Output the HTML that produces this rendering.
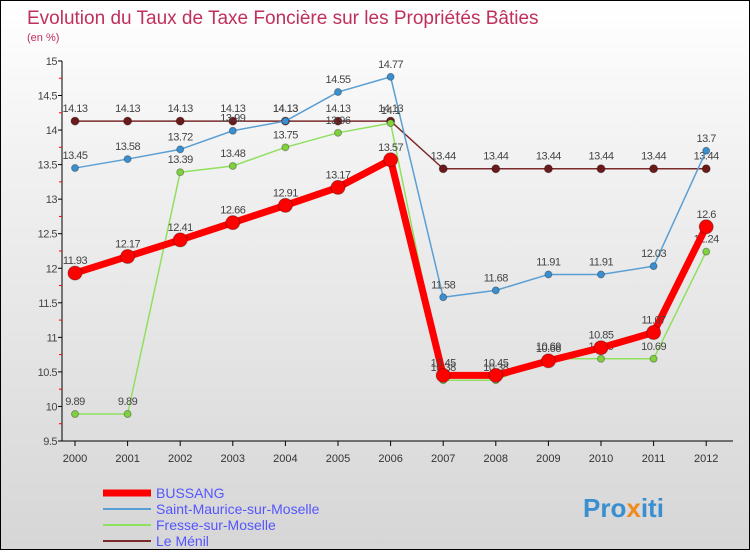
<!DOCTYPE html>
<html><head><meta charset="utf-8"><style>
body{margin:0;width:750px;height:550px;overflow:hidden;font-family:"Liberation Sans",sans-serif}
#wrap{position:relative;width:748px;height:548px;border:1px solid #000;background:linear-gradient(#fff 0%,#f1f1f1 30%,#d6d6d6 100%)}
</style></head><body>
<div id="wrap">
<svg id="svg" width="748" height="548" xmlns="http://www.w3.org/2000/svg">
<text x="26" y="23" font-size="19" fill="#c0305c">Evolution du Taux de Taxe Foncière sur les Propriétés Bâties</text>
<text x="26" y="40" font-size="11" fill="#c0305c">(en %)</text>
<g id="axes"></g><g id="series"></g>
<g>
<line x1="102" y1="492" x2="150" y2="492" stroke="#f00" stroke-width="7"/><text x="155" y="497" font-size="14" fill="#5555ff">BUSSANG</text>
<line x1="102" y1="508" x2="150" y2="508" stroke="#5a9fd4" stroke-width="2"/><text x="155" y="513" font-size="14" fill="#5555ff">Saint-Maurice-sur-Moselle</text>
<line x1="102" y1="524" x2="150" y2="524" stroke="#90e060" stroke-width="2"/><text x="155" y="529" font-size="14" fill="#5555ff">Fresse-sur-Moselle</text>
<line x1="102" y1="540" x2="150" y2="540" stroke="#7a2a2a" stroke-width="2"/><text x="155" y="545" font-size="14" fill="#5555ff">Le Ménil</text>
</g>
<text x="582" y="516" font-size="26" font-weight="bold" fill="#3a8fd0">Pro<tspan fill="#f08a20">x</tspan>iti</text>
</svg></div>
<script>
const years=["2000","2001","2002","2003","2004","2005","2006","2007","2008","2009","2010","2011","2012"];
const yTicks=[9.5,10,10.5,11,11.5,12,12.5,13,13.5,14,14.5,15];
const bussang=[11.93,12.17,12.41,12.66,12.91,13.17,13.57,10.45,10.45,10.66,10.85,11.07,12.6];
const saintMaurice=[13.45,13.58,13.72,13.99,14.13,14.55,14.77,11.58,11.68,11.91,11.91,12.03,13.7];
const fresse=[9.89,9.89,13.39,13.48,13.75,13.96,14.1,10.38,10.38,10.69,10.69,10.69,12.24];
const leMenil=[14.13,14.13,14.13,14.13,14.13,14.13,14.13,13.44,13.44,13.44,13.44,13.44,13.44];
const NS="http://www.w3.org/2000/svg";
const X=i=>74+i*52.6, Y=v=>440-(v-9.5)*69.1;
function mk(t,a,p){const e=document.createElementNS(NS,t);for(const k in a)e.setAttribute(k,a[k]);p.appendChild(e);return e;}
const ax=document.getElementById('axes'),sg=document.getElementById('series');
const yl=mk('line',{x1:61,y1:Y(15),x2:61,y2:440,stroke:'#000'},ax);


const xl=mk('line',{x1:61,y1:440,x2:732,y2:440,stroke:'#000'},ax);


yTicks.forEach(v=>{mk('line',{x1:57,y1:Y(v),x2:61,y2:Y(v),stroke:'#000'},ax);
 if(v<15)mk('line',{x1:58,y1:Y(v+0.25),x2:61,y2:Y(v+0.25),stroke:'#f00'},ax);
 const t=mk('text',{x:56,y:Y(v)+4,'font-size':11,fill:'#444','text-anchor':'end','letter-spacing':'-0.5'},ax);t.textContent=String(v);
 
 });
years.forEach((y,i)=>{mk('line',{x1:X(i),y1:440,x2:X(i),y2:445,stroke:'#000'},ax);
 const t=mk('text',{x:X(i),y:461,'font-size':11,fill:'#333','text-anchor':'middle'},ax);t.textContent=y;
 
 });
function series(d,name,col,w,r,mcol){const g=mk('g',{},sg);
 
 
 mk('polyline',{points:d.map((v,i)=>X(i)+','+Y(v)).join(' '),fill:'none',stroke:col,'stroke-width':w,'stroke-linejoin':'round'},g);
 d.forEach((v,i)=>{mk('circle',{cx:X(i),cy:Y(v),r:r,fill:mcol,stroke:'rgba(0,0,0,0.3)'},g);
  const t=mk('text',{x:X(i),y:Y(v)-9,'font-size':11,fill:'#444','text-anchor':'middle','letter-spacing':'-0.5'},g);t.textContent=String(v);});}
series(leMenil,'series-le-menil','#7a2a2a',1.5,4,'#6a1a1a');
series(saintMaurice,'series-saint-maurice','#5a9fd4',1.5,3.5,'#3a8fd0');
series(fresse,'series-fresse','#90e060',1.5,3.5,'#80d040');
series(bussang,'series-bussang','#f00',7,7,'#f00');
</script>
</body></html>
